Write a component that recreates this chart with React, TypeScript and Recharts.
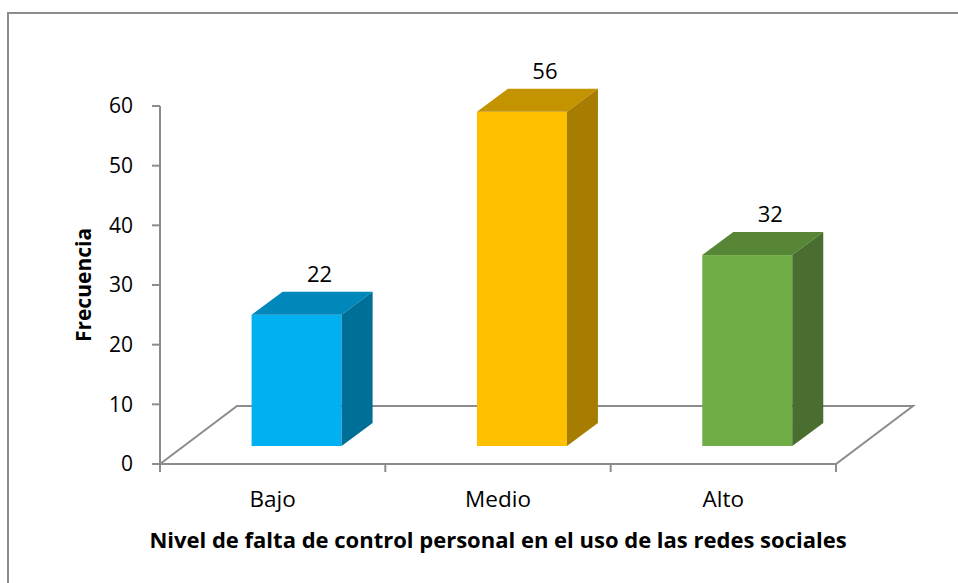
import { BarChart, Bar, XAxis, YAxis, ReferenceArea, LabelList, Cell } from 'recharts';

const categories = ['Bajo', 'Medio', 'Alto'];
const frecuencia = [22, 56, 32];
const yTicks = [0, 10, 20, 30, 40, 50, 60];

const frontColors = ['#00B0F0', '#FFC000', '#70AD47'];
const topColors = ['#0088BA', '#C49400', '#578636'];
const sideColors = ['#006F98', '#A67D00', '#4A6E2F'];

const data = categories.map((name, i) => ({ name, value: frecuencia[i] }));

// perspective of the floor and of each box
const FLOOR_DX = 77;
const FLOOR_DY = 58;
const SHIFT_X = 24;
const SHIFT_Y = 18;
const BOX_DX = 31;
const BOX_DY = 23;

const FONT = '"Open Sans", Lato, sans-serif';
const GRID = '#8c8c8c';

function Floor(props: any) {
  const { x, y, width, height } = props;
  const by = y + height;
  const n = categories.length;
  return (
    <g fill="none" stroke={GRID} strokeWidth={2}>
      <polygon points={`${x},${by} ${x + FLOOR_DX},${by - FLOOR_DY} ${x + width + FLOOR_DX},${by - FLOOR_DY} ${x + width},${by}`} />
      {Array.from({ length: n + 1 }).map((_, i) => (
        <line key={i} x1={x + (i * width) / n} y1={by} x2={x + (i * width) / n} y2={by + 8} />
      ))}
    </g>
  );
}

function Box3D(props: any) {
  const { x, y, width, height, index } = props;
  const fx = x + SHIFT_X;
  const fy = y - SHIFT_Y;
  const bottom = fy + height;
  return (
    <g>
      <rect x={fx} y={fy} width={width} height={height} fill={frontColors[index]} />
      <polygon
        points={`${fx},${fy} ${fx + BOX_DX},${fy - BOX_DY} ${fx + width + BOX_DX},${fy - BOX_DY} ${fx + width},${fy}`}
        fill={topColors[index]}
      />
      <polygon
        points={`${fx + width},${fy} ${fx + width + BOX_DX},${fy - BOX_DY} ${fx + width + BOX_DX},${bottom - BOX_DY} ${fx + width},${bottom}`}
        fill={sideColors[index]}
      />
    </g>
  );
}

function ValueLabel(props: any) {
  const { x, y, width, value } = props;
  return (
    <text
      x={x + width / 2 + SHIFT_X + 23}
      y={y - SHIFT_Y - BOX_DY - 10}
      textAnchor="middle"
      fontFamily={FONT}
      fontSize={22}
      fill="#000"
    >
      {value}
    </text>
  );
}

function CategoryTick(props: any) {
  const { x, y, payload } = props;
  return (
    <text x={x} y={y + 35} textAnchor="middle" fontFamily={FONT} fontSize={22.5} fill="#000">
      {payload.value}
    </text>
  );
}

export default function App() {
  return (
    <div style={{ position: 'fixed', left: 0, top: 0, width: 958, height: 583, background: '#fff', overflow: 'hidden' }}>
      <div
        style={{
          position: 'absolute',
          left: 7,
          top: 12,
          right: -10,
          bottom: -10,
          borderLeft: `2px solid ${GRID}`,
          borderTop: `2px solid ${GRID}`,
        }}
      />
      <div style={{ position: 'absolute', left: 0, top: 0 }}>
        <BarChart
          width={958}
          height={583}
          data={data}
          margin={{ top: 106, right: 122, left: 80, bottom: 59 }}
          barCategoryGap="30%"
        >
          <ReferenceArea y1={0} y2={60} shape={<Floor />} />
          <XAxis
            dataKey="name"
            height={60}
            axisLine={false}
            tickLine={false}
            tick={<CategoryTick />}
            label={{
              value: 'Nivel de falta de control personal en el uso de las redes sociales',
              position: 'insideBottom',
              offset: -24,
              style: { fontFamily: FONT, fontSize: 22, fontWeight: 700, fill: '#000' },
            }}
          />
          <YAxis
            width={80}
            domain={[0, 60]}
            ticks={yTicks}
            interval={0}
            axisLine={{ stroke: GRID, strokeWidth: 2 }}
            tickLine={{ stroke: GRID, strokeWidth: 2 }}
            tickSize={8}
            tickMargin={19}
            tick={{ fontFamily: FONT, fontSize: 21, fill: '#000' }}
            label={{
              value: 'Frecuencia',
              angle: -90,
              position: 'insideLeft',
              offset: 4,
              style: { textAnchor: 'middle', fontFamily: FONT, fontSize: 21, fontWeight: 700, fill: '#000' },
            }}
          />
          <Bar dataKey="value" shape={<Box3D />} isAnimationActive={false}>
            {data.map((d, i) => (
              <Cell key={d.name} fill={frontColors[i]} />
            ))}
            <LabelList dataKey="value" content={<ValueLabel />} />
          </Bar>
        </BarChart>
      </div>
    </div>
  );
}
